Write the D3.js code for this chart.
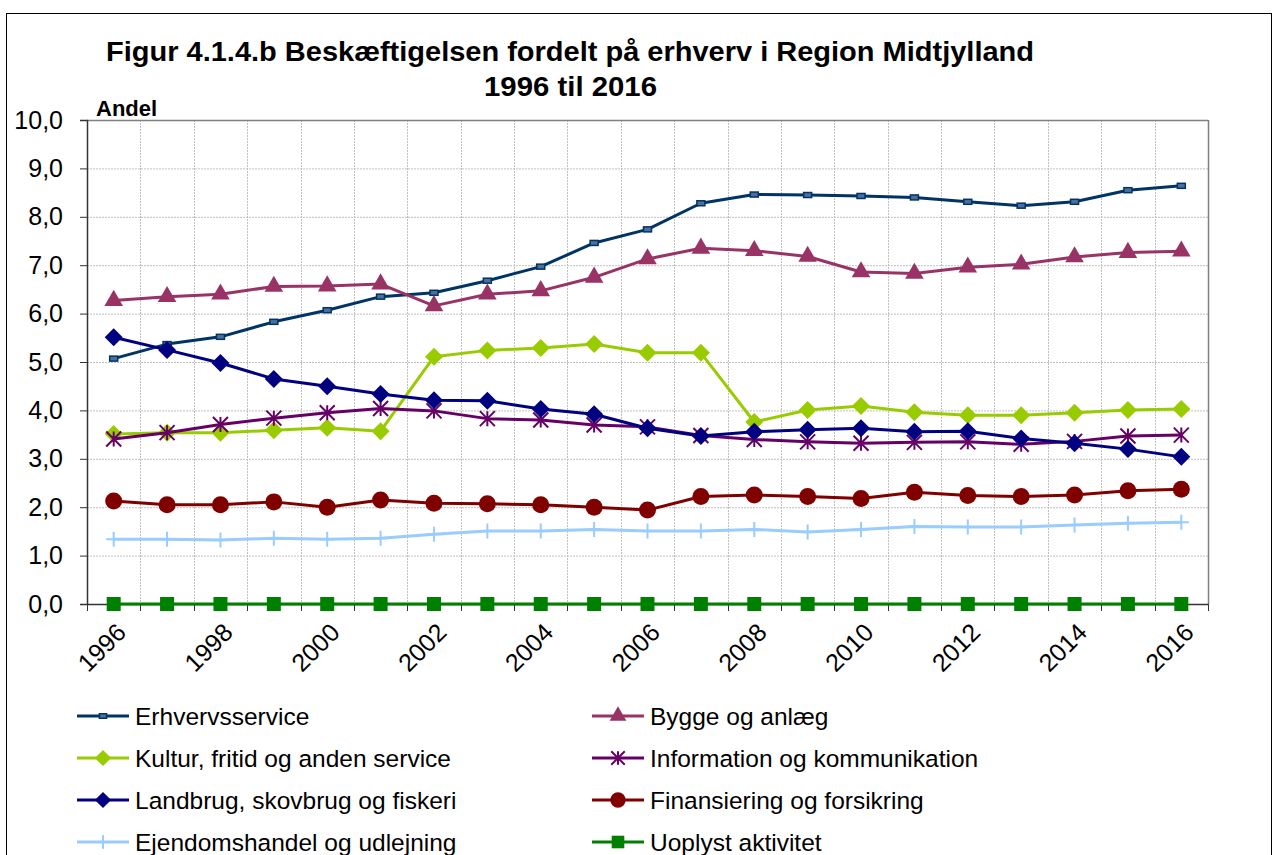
<!DOCTYPE html>
<html>
<head>
<meta charset="utf-8">
<script src="https://cdn.jsdelivr.net/npm/d3@7"></script>
<style>
  body { margin: 0; background: #fff; }
  text { font-family: Arial, "Liberation Sans", sans-serif; }
</style>
</head>
<body>
<div id="chart"></div>
<script>
// chart data
var years = d3.range(1996, 2017);
var tickYears = [1996, 1998, 2000, 2002, 2004, 2006, 2008, 2010, 2012, 2014, 2016];
var yTicks = [0, 1, 2, 3, 4, 5, 6, 7, 8, 9, 10];

var erhvervsservice = [5.07, 5.37, 5.52, 5.83, 6.07, 6.35, 6.43, 6.68, 6.97, 7.46, 7.74, 8.28, 8.46, 8.45, 8.43, 8.40, 8.31, 8.23, 8.31, 8.55, 8.64];
var bygge = [6.27, 6.35, 6.40, 6.56, 6.57, 6.61, 6.16, 6.40, 6.47, 6.75, 7.13, 7.35, 7.30, 7.18, 6.86, 6.83, 6.96, 7.02, 7.17, 7.26, 7.29];
var kultur = [3.51, 3.54, 3.54, 3.59, 3.64, 3.57, 5.11, 5.24, 5.29, 5.37, 5.19, 5.19, 3.76, 4.01, 4.09, 3.96, 3.90, 3.90, 3.95, 4.01, 4.03];
var information = [3.41, 3.54, 3.71, 3.84, 3.95, 4.04, 3.99, 3.83, 3.80, 3.70, 3.66, 3.48, 3.40, 3.35, 3.32, 3.34, 3.35, 3.30, 3.36, 3.47, 3.49];
var landbrug = [5.51, 5.25, 4.98, 4.65, 4.50, 4.34, 4.21, 4.20, 4.03, 3.92, 3.63, 3.47, 3.56, 3.60, 3.63, 3.56, 3.57, 3.42, 3.32, 3.20, 3.04];
var finansiering = [2.13, 2.05, 2.05, 2.11, 2.00, 2.15, 2.08, 2.07, 2.05, 2.00, 1.94, 2.22, 2.25, 2.22, 2.18, 2.31, 2.24, 2.22, 2.25, 2.34, 2.37];
var ejendom = [1.34, 1.34, 1.32, 1.36, 1.34, 1.36, 1.44, 1.51, 1.51, 1.54, 1.51, 1.51, 1.54, 1.49, 1.54, 1.60, 1.59, 1.59, 1.63, 1.67, 1.69];
var uoplyst = [0, 0, 0, 0, 0, 0, 0, 0, 0, 0, 0, 0, 0, 0, 0, 0, 0, 0, 0, 0, 0];

var series = [
  { name: "Erhvervsservice", values: erhvervsservice, color: "#003366", marker: "dash" },
  { name: "Bygge og anlæg", values: bygge, color: "#993366", marker: "triangle" },
  { name: "Kultur, fritid og anden service", values: kultur, color: "#99CC00", marker: "diamond" },
  { name: "Information og kommunikation", values: information, color: "#660066", marker: "star" },
  { name: "Landbrug, skovbrug og fiskeri", values: landbrug, color: "#000080", marker: "diamond" },
  { name: "Finansiering og forsikring", values: finansiering, color: "#800000", marker: "circle" },
  { name: "Ejendomshandel og udlejning", values: ejendom, color: "#99CCFF", marker: "plus" },
  { name: "Uoplyst aktivitet", values: uoplyst, color: "#008000", marker: "square" }
];

var svgWidth = 1274;
var svgHeight = 855;

var plot = { left: 87, top: 120, right: 1208, bottom: 604 };

var svg = d3.select("#chart")
  .append("svg")
  .attr("width", svgWidth)
  .attr("height", svgHeight);

// outer frame
svg.append("rect")
  .attr("x", 6.5).attr("y", 13.5)
  .attr("width", 1265).attr("height", 900)
  .attr("fill", "none")
  .attr("stroke", "#000")
  .attr("stroke-width", 1);

// title (stretched to the width it has in the original)
svg.append("text")
  .attr("x", 106).attr("y", 61)
  .attr("font-size", 27).attr("font-weight", "bold")
  .attr("textLength", 928).attr("lengthAdjust", "spacingAndGlyphs")
  .text("Figur 4.1.4.b Beskæftigelsen fordelt på erhverv i Region Midtjylland");
svg.append("text")
  .attr("x", 484).attr("y", 96)
  .attr("font-size", 27).attr("font-weight", "bold")
  .attr("textLength", 173).attr("lengthAdjust", "spacingAndGlyphs")
  .text("1996 til 2016");

svg.append("text")
  .attr("x", 96).attr("y", 116)
  .attr("font-size", 22).attr("font-weight", "bold")
  .text("Andel");

// scales
var x = d3.scaleBand()
  .domain(years)
  .range([plot.left, plot.right]);

var y = d3.scaleLinear()
  .domain([0, 10])
  .range([plot.bottom, plot.top]);

var cx = d => x(d) + x.bandwidth() / 2;

// gridlines
var grid = svg.append("g");
grid.selectAll("line.h")
  .data(yTicks.slice(1))
  .enter().append("line")
  .attr("x1", plot.left).attr("x2", plot.right)
  .attr("y1", d => y(d) + 0.5).attr("y2", d => y(d) + 0.5)
  .attr("stroke", "#c0c0c0")
  .attr("stroke-dasharray", "2,1");

grid.selectAll("line.v")
  .data(years.slice(1))
  .enter().append("line")
  .attr("x1", d => Math.round(x(d)) + 0.5).attr("x2", d => Math.round(x(d)) + 0.5)
  .attr("y1", plot.top).attr("y2", plot.bottom)
  .attr("stroke", "#c0c0c0")
  .attr("stroke-dasharray", "2,1");

// plot border right / top
svg.append("line")
  .attr("x1", plot.right + 0.5).attr("x2", plot.right + 0.5)
  .attr("y1", plot.top).attr("y2", plot.bottom)
  .attr("stroke", "#808080").attr("stroke-width", 1.5);
svg.append("line")
  .attr("x1", plot.left).attr("x2", plot.right)
  .attr("y1", plot.top + 0.5).attr("y2", plot.top + 0.5)
  .attr("stroke", "#808080").attr("stroke-width", 1.5);

// y axis
var leftAxis = d3.axisLeft(y)
  .tickValues(yTicks)
  .tickSize(7)
  .tickPadding(17)
  .tickFormat(d => d3.format(".1f")(d).replace(".", ","));

var yAxis = svg.append("g")
  .attr("transform", `translate(${plot.left}, 0)`)
  .call(leftAxis);
yAxis.select(".domain").attr("stroke", "#333").attr("stroke-width", 1.5);
yAxis.selectAll(".tick line").attr("stroke", "#333");
yAxis.selectAll("text")
  .attr("font-size", 25)
  .attr("font-family", "Arial, 'Liberation Sans', sans-serif")
  .attr("fill", "#000");

// x axis: ticks on band boundaries
var bounds = years.map(d => x(d)).concat([plot.right]);
var xAxis = svg.append("g");
xAxis.append("line")
  .attr("x1", plot.left).attr("x2", plot.right + 1)
  .attr("y1", plot.bottom + 0.5).attr("y2", plot.bottom + 0.5)
  .attr("stroke", "#333").attr("stroke-width", 1.5);
xAxis.selectAll("line.tick")
  .data(bounds)
  .enter().append("line")
  .attr("x1", d => Math.round(d) + 0.5).attr("x2", d => Math.round(d) + 0.5)
  .attr("y1", plot.bottom).attr("y2", plot.bottom + 7)
  .attr("stroke", "#333");
xAxis.selectAll("text")
  .data(tickYears)
  .enter().append("text")
  .attr("transform", d => `translate(${cx(d) + 14}, ${plot.bottom + 30}) rotate(-45)`)
  .attr("text-anchor", "end")
  .attr("font-size", 25)
  .text(d => d);

// markers
function drawMarker(g, type, color, px, py, scale) {
  scale = scale || 1;
  if (type === "dash") {
    g.append("rect")
      .attr("x", px - 4 * scale).attr("y", py - 2.5 * scale)
      .attr("width", 8 * scale).attr("height", 5 * scale)
      .attr("fill", "#4d7099").attr("stroke", color).attr("stroke-width", 1.5);
  } else if (type === "triangle") {
    g.append("path")
      .attr("d", d3.symbol().type(d3.symbolTriangle).size(150 * scale * scale)())
      .attr("transform", `translate(${px}, ${py})`)
      .attr("fill", color);
  } else if (type === "diamond") {
    var r = 9 * scale;
    g.append("path")
      .attr("d", `M${px},${py - r}L${px + r},${py}L${px},${py + r}L${px - r},${py}Z`)
      .attr("fill", color);
  } else if (type === "star") {
    var s = 7.5 * scale;
    g.append("path")
      .attr("d", `M${px - s},${py - s}L${px + s},${py + s}M${px - s},${py + s}L${px + s},${py - s}M${px},${py - s}L${px},${py + s}`)
      .attr("stroke", color).attr("stroke-width", 2).attr("fill", "none");
  } else if (type === "circle") {
    g.append("circle")
      .attr("cx", px).attr("cy", py).attr("r", 8.5 * scale)
      .attr("fill", color);
  } else if (type === "plus") {
    var p = 7.5 * scale;
    g.append("path")
      .attr("d", `M${px - p},${py}L${px + p},${py}M${px},${py - p}L${px},${py + p}`)
      .attr("stroke", color).attr("stroke-width", 2).attr("fill", "none");
  } else if (type === "square") {
    var q = 7 * scale;
    g.append("rect")
      .attr("x", px - q).attr("y", py - q)
      .attr("width", 2 * q).attr("height", 2 * q)
      .attr("fill", color);
  }
}

var line = d3.line()
  .x((d, i) => cx(years[i]))
  .y(d => y(d));

series.forEach(function(s) {
  var g = svg.append("g");
  g.append("path")
    .datum(s.values)
    .attr("d", line)
    .attr("fill", "none")
    .attr("stroke", s.color)
    .attr("stroke-width", 3)
    .attr("stroke-linejoin", "round");
  s.values.forEach(function(v, i) {
    drawMarker(g, s.marker, s.color, cx(years[i]), y(v));
  });
});

// legend, two columns
var legendRows = [716, 758, 800, 842];
var legendCols = [77, 592];
series.forEach(function(s, i) {
  var lx = legendCols[i % 2];
  var ly = legendRows[Math.floor(i / 2)];
  var g = svg.append("g");
  g.append("line")
    .attr("x1", lx).attr("x2", lx + 52)
    .attr("y1", ly).attr("y2", ly)
    .attr("stroke", s.color).attr("stroke-width", 3);
  drawMarker(g, s.marker, s.color, lx + 26, ly, 0.9);
  g.append("text")
    .attr("x", lx + 58).attr("y", ly)
    .attr("dy", "0.35em")
    .attr("font-size", 24.5)
    .text(s.name);
});
</script>
</body>
</html>
